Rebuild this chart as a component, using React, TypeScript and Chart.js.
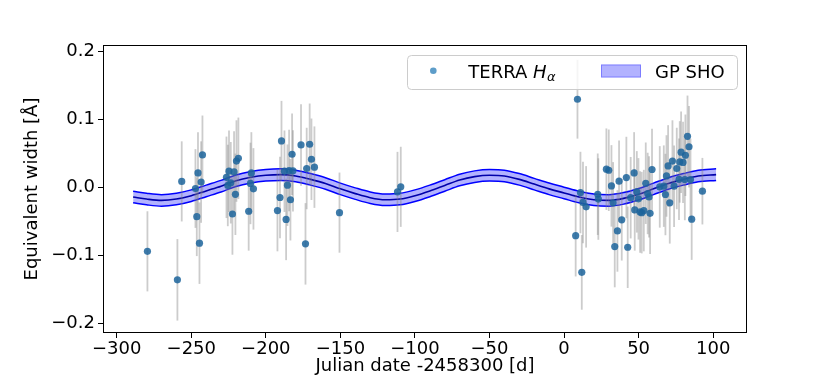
import React, { useEffect, useRef } from 'react';
import { Chart, registerables } from 'chart.js';

Chart.register(...registerables);

// Observations: Julian date offset [d], equivalent width [Å], 1-sigma error
const obsX = [
  -279.4, -259.3, -256.4, -247.2, -245.5, -246.3, -243.4, -242.5, -244.5,
  -226.4, -224.7, -223.5, -221.3, -220.4, -219.7, -218.4, -222.4, -225.5,
  -211.5, -209.7, -210.3, -208.3,
  -189.5, -176.4, -170.6, -182.4, -169.4, -172.6, -167.4, -187.5, -184.4, -181.8,
  -185.5, -190.5, -183.5, -192.2, -186.4, -173.4,
  -150.6, -111.7, -109.5,
  9.0, 7.8, 11.9, 11.0, 12.7, 14.8, 22.6, 23.0, 28.4, 30.0, 31.8, 32.9, 38.7,
  35.8, 34.0, 42.7, 36.9, 41.8, 47.0, 44.7, 47.4, 48.8, 49.9, 51.0, 52.1, 53.5,
  54.8, 56.1, 57.0, 57.7, 59.0, 64.2, 66.9, 68.0, 68.7, 69.8, 70.9, 72.7, 73.8,
  75.6, 77.1, 77.6, 78.5, 79.8, 81.4, 81.0, 82.8, 83.8, 84.8, 85.6, 92.8,
];
const obsY = [
  -0.094, -0.136, 0.009, -0.0015, 0.0215, -0.043, 0.008, 0.048, -0.082,
  0.015, 0.024, 0.007, 0.023, -0.010, 0.039, 0.043, -0.039, 0.003,
  -0.035, 0.0215, 0.006, -0.002,
  0.0686, 0.0627, 0.0637, 0.049, 0.0416, 0.028, 0.030, 0.024, 0.025, 0.0245,
  0.0034, -0.0147, -0.018, -0.034, -0.047, -0.083,
  -0.037, -0.0065, 0.001,
  0.130, -0.071, -0.125, -0.0074, -0.022, -0.0285, -0.0099, -0.017, 0.027, 0.0254, 0.0024, -0.0226, -0.0476,
  -0.064, -0.087, -0.088, 0.0093, 0.0147, 0.0215, -0.015, -0.033, -0.0064, -0.0167, -0.036, -0.037, -0.034,
  0.0063, -0.0088, -0.0138, -0.038, 0.0265, 0.0009, 0.002, -0.0103, 0.017, 0.0318, -0.0226, 0.039, 0.002,
  0.028, 0.012, 0.0377, 0.052, 0.037, 0.0475, 0.0118, 0.0754, 0.060, 0.0118, -0.0466, -0.0054,
];
const obsErr = [
  0.059, 0.060, 0.059, 0.058, 0.060, 0.058, 0.060, 0.058, 0.060,
  0.060, 0.060, 0.060, 0.060, 0.060, 0.060, 0.060, 0.060, 0.060,
  0.058, 0.060, 0.060, 0.060,
  0.059, 0.060, 0.060, 0.060, 0.060, 0.060, 0.060, 0.060, 0.060, 0.060,
  0.060, 0.060, 0.060, 0.060, 0.060, 0.060,
  0.059, 0.059, 0.059,
  0.058, 0.060, 0.055, 0.060, 0.060, 0.060, 0.060, 0.060, 0.060, 0.060, 0.060, 0.060, 0.060,
  0.060, 0.060, 0.060, 0.060, 0.060, 0.060, 0.060, 0.060, 0.060, 0.060, 0.060, 0.060, 0.060,
  0.060, 0.060, 0.060, 0.060, 0.060, 0.060, 0.060, 0.060, 0.060, 0.060, 0.060, 0.060, 0.060,
  0.060, 0.060, 0.060, 0.060, 0.060, 0.060, 0.060, 0.060, 0.060, 0.060, 0.060, 0.049,
];

// GP SHO model: mean curve and 1-sigma half width
const gpX = [
  -289, -280, -270, -260, -250, -240, -230, -220, -210, -200, -190, -180, -170,
  -160, -150, -140, -130, -120, -110, -100, -90, -80, -70, -60, -50, -40, -30,
  -20, -10, 0, 10, 20, 30, 40, 50, 60, 70, 80, 90, 102,
];
const gpMean = [
  -0.014, -0.017, -0.019, -0.017, -0.012, -0.005, 0.002, 0.010, 0.015, 0.018, 0.019, 0.017, 0.012,
  0.006, -0.002, -0.009, -0.015, -0.018, -0.017, -0.012, -0.005, 0.003, 0.011, 0.016, 0.018, 0.017, 0.012,
  0.005, -0.002, -0.008, -0.014, -0.018, -0.019, -0.016, -0.010, -0.002, 0.006, 0.012, 0.017, 0.019,
];
const GP_SIGMA = 0.0085;

const xTicks = [-300, -250, -200, -150, -100, -50, 0, 50, 100];
const yTicks = [-0.2, -0.1, 0.0, 0.1, 0.2];

const FONT = '"DejaVu Sans", "Liberation Sans", sans-serif';
const POINT_COLOR = 'rgba(28,100,155,0.85)';
const LEGEND_POINT_COLOR = 'rgba(31,119,180,0.72)';
const BAND_FILL = 'rgba(0,0,255,0.3)';

const minus = (s: string) => s.replace('-', '\u2212');

const errorBarPlugin = {
  id: 'errorBars',
  beforeDatasetDraw(chart: any, args: any) {
    if (args.index !== 3) return;
    const { ctx, chartArea, scales } = chart;
    const xs = scales.x;
    const ys = scales.y;
    ctx.save();
    ctx.beginPath();
    ctx.rect(chartArea.left, chartArea.top, chartArea.right - chartArea.left, chartArea.bottom - chartArea.top);
    ctx.clip();
    ctx.strokeStyle = 'rgba(128,128,128,0.4)';
    ctx.lineWidth = 1.8;
    for (let i = 0; i < obsX.length; i++) {
      const px = xs.getPixelForValue(obsX[i]);
      const y1 = ys.getPixelForValue(obsY[i] - obsErr[i]);
      const y2 = ys.getPixelForValue(obsY[i] + obsErr[i]);
      ctx.beginPath();
      ctx.moveTo(px, y1);
      ctx.lineTo(px, y2);
      ctx.stroke();
    }
    ctx.restore();
  },
};

const framePlugin = {
  id: 'frameAndLegend',
  afterDraw(chart: any) {
    const { ctx, chartArea } = chart;
    ctx.save();
    ctx.strokeStyle = '#000';
    ctx.lineWidth = 1;
    ctx.strokeRect(
      Math.round(chartArea.left) + 0.5,
      Math.round(chartArea.top) + 0.5,
      Math.round(chartArea.right - chartArea.left) - 1,
      Math.round(chartArea.bottom - chartArea.top) - 1
    );

    // Legend box
    const bx = 407.5, by = 55.5, bw = 330, bh = 34, r = 4;
    ctx.beginPath();
    ctx.moveTo(bx + r, by);
    ctx.lineTo(bx + bw - r, by);
    ctx.arcTo(bx + bw, by, bx + bw, by + r, r);
    ctx.lineTo(bx + bw, by + bh - r);
    ctx.arcTo(bx + bw, by + bh, bx + bw - r, by + bh, r);
    ctx.lineTo(bx + r, by + bh);
    ctx.arcTo(bx, by + bh, bx, by + bh - r, r);
    ctx.lineTo(bx, by + r);
    ctx.arcTo(bx, by, bx + r, by, r);
    ctx.closePath();
    ctx.fillStyle = 'rgba(255,255,255,0.8)';
    ctx.fill();
    ctx.strokeStyle = 'rgba(204,204,204,1)';
    ctx.stroke();

    // Entry 1: scatter marker
    ctx.fillStyle = LEGEND_POINT_COLOR;
    ctx.beginPath();
    ctx.arc(433.3, 70.8, 3.3, 0, Math.PI * 2);
    ctx.fill();
    const base = 77.5;
    ctx.fillStyle = '#000';
    ctx.textBaseline = 'alphabetic';
    ctx.textAlign = 'left';
    ctx.font = `18px ${FONT}`;
    const t1 = 'TERRA ';
    ctx.fillText(t1, 468.3, base);
    let cx = 468.3 + ctx.measureText(t1).width;
    ctx.font = `oblique 18px ${FONT}`;
    ctx.fillText('H', cx, base);
    cx += ctx.measureText('H').width;
    ctx.font = `oblique 13px ${FONT}`;
    ctx.fillText('\u03b1', cx + 0.5, base + 3.5);

    // Entry 2: GP band patch
    ctx.fillStyle = BAND_FILL;
    ctx.fillRect(601, 64.5, 40, 13);
    ctx.strokeStyle = 'rgba(0,0,255,0.3)';
    ctx.strokeRect(601.5, 65, 39, 12);
    ctx.fillStyle = '#000';
    ctx.font = `18px ${FONT}`;
    ctx.fillText('GP SHO', 655, base);
    ctx.restore();
  },
};

export default function App() {
  const ref = useRef<HTMLCanvasElement | null>(null);

  useEffect(() => {
    document.body.style.margin = '0';
    const canvas = ref.current;
    if (!canvas) return;

    const lower = gpX.map((x, i) => ({ x, y: gpMean[i] - GP_SIGMA }));
    const upper = gpX.map((x, i) => ({ x, y: gpMean[i] + GP_SIGMA }));
    const mean = gpX.map((x, i) => ({ x, y: gpMean[i] }));
    const obs = obsX.map((x, i) => ({ x, y: obsY[i] }));

    const chart = new Chart(canvas, {
      type: 'scatter',
      data: {
        datasets: [
          {
            type: 'line',
            label: 'GP lower',
            data: lower,
            borderColor: 'rgb(0,0,255)',
            borderWidth: 1.5,
            pointRadius: 0,
            fill: false,
            cubicInterpolationMode: 'monotone',
            order: 3,
          } as any,
          {
            type: 'line',
            label: 'GP SHO',
            data: upper,
            borderColor: 'rgb(0,0,255)',
            borderWidth: 1.5,
            backgroundColor: BAND_FILL,
            pointRadius: 0,
            fill: '-1',
            cubicInterpolationMode: 'monotone',
            order: 2,
          } as any,
          {
            type: 'line',
            label: 'GP mean',
            data: mean,
            borderColor: 'rgb(0,0,170)',
            borderWidth: 1.6,
            pointRadius: 0,
            fill: false,
            cubicInterpolationMode: 'monotone',
            order: 1,
          } as any,
          {
            type: 'scatter',
            label: 'TERRA H\u03b1',
            data: obs,
            backgroundColor: POINT_COLOR,
            borderWidth: 0,
            pointRadius: 3.6,
            order: 0,
          } as any,
        ],
      },
      options: {
        responsive: false,
        animation: false,
        devicePixelRatio: 1,
        layout: { padding: { left: 0, right: 83, top: 45, bottom: 0 } },
        plugins: {
          legend: { display: false },
          tooltip: { enabled: false },
        },
        scales: {
          x: {
            type: 'linear',
            min: -309.2,
            max: 122.7,
            afterBuildTicks: (s: any) => {
              s.ticks = xTicks.map((v) => ({ value: v }));
            },
            afterFit: (s: any) => {
              s.height = 48;
            },
            ticks: {
              color: '#000',
              font: { family: FONT, size: 18 },
              padding: 1,
              maxRotation: 0,
              autoSkip: false,
              callback: (v: any) => minus(String(v)),
            },
            grid: {
              display: true,
              drawOnChartArea: false,
              drawTicks: true,
              tickLength: 5,
              color: '#000',
              lineWidth: 1,
            },
            border: { display: false },
            title: {
              display: true,
              text: 'Julian date -2458300 [d]',
              color: '#000',
              font: { family: FONT, size: 18 },
              padding: { top: 0, bottom: 4 },
            },
          },
          y: {
            type: 'linear',
            min: -0.2143,
            max: 0.2099,
            afterBuildTicks: (s: any) => {
              s.ticks = yTicks.map((v) => ({ value: v }));
            },
            afterFit: (s: any) => {
              s.width = 103;
            },
            ticks: {
              color: '#000',
              font: { family: FONT, size: 18 },
              padding: 3,
              autoSkip: false,
              callback: (v: any) => minus(Number(v).toFixed(1)),
            },
            grid: {
              display: true,
              drawOnChartArea: false,
              drawTicks: true,
              tickLength: 5,
              color: '#000',
              lineWidth: 1,
            },
            border: { display: false },
            title: {
              display: true,
              text: 'Equivalent width [\u00c5]',
              color: '#000',
              font: { family: FONT, size: 18 },
              padding: { top: 22, bottom: 0 },
            },
          },
        },
      },
      plugins: [errorBarPlugin, framePlugin],
    } as any);

    return () => chart.destroy();
  }, []);

  return <canvas ref={ref} width={830} height={381} style={{ display: 'block' }} />;
}
